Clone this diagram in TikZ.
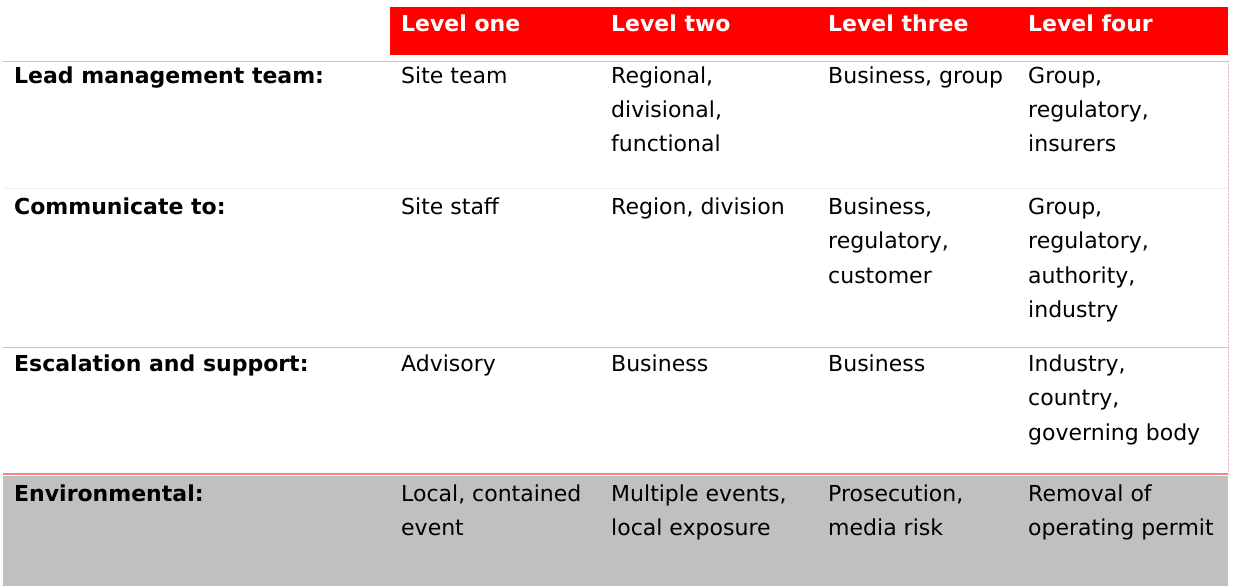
\documentclass[tikz,border=0pt]{standalone}
\usepackage{fontspec}
\setmainfont{DejaVu Sans}
\usetikzlibrary{positioning}
\definecolor{hdrred}{RGB}{255,0,0}
\definecolor{rulepink}{RGB}{242,178,190}
\definecolor{rulered}{RGB}{255,128,128}
\definecolor{rulefaint}{RGB}{240,240,240}
\definecolor{envgray}{RGB}{192,192,192}
\newcommand{\celllines}[1]{\begin{tabular}[t]{@{}l@{}}#1\end{tabular}}
\tikzset{
  cell/.style={anchor=base west, inner sep=0pt,
    font=\fontsize{22}{34.5}\selectfont},
  rowhead/.style={cell, font=\fontsize{22}{34.5}\selectfont\bfseries},
  colhead/.style={rowhead, text=white},
}

\begin{document}
\begin{tikzpicture}[x=1pt,y=-1pt]
            \useasboundingbox (0,0) rectangle (1234,586);
            \fill[envgray] (3,476) rectangle (1228,586);
            \fill[hdrred] (390,7) rectangle (1228,55);
            \draw[rulepink] (3,61) -- (1228,61);
            \draw[rulefaint] (3,188) -- (1228,188);
            \draw[rulepink] (3,347) -- (1228,347);
            \draw[rulered, line width=1.5pt] (3,474) -- (1228,474);
            \draw[rulepink, densely dotted] (1228,61) -- (1228,474);
            \node[colhead] (L1) at (401,32) {Level one};
            \node[colhead] (L2) at (611,32) {Level two};
            \node[colhead] (L3) at (828,32) {Level three};
            \node[colhead] (L4) at (1028,32) {Level four};
            \node[rowhead] (lead) at (14,83) {Lead management team:};
            \node[cell] (lead1) at (401,83) {Site team};
            \node[cell] (lead2) at (611,83) {\celllines{Regional,\\divisional,\\functional}};
            \node[cell] (lead3) at (828,83) {Business, group};
            \node[cell] (lead4) at (1028,83) {\celllines{Group,\\regulatory,\\insurers}};
            \node[rowhead] (comm) at (14,214) {Communicate to:};
            \node[cell] (comm1) at (401,214) {Site staff};
            \node[cell] (comm2) at (611,214) {Region, division};
            \node[cell] (comm3) at (828,214) {\celllines{Business,\\regulatory,\\customer}};
            \node[cell] (comm4) at (1028,214) {\celllines{Group,\\regulatory,\\authority,\\industry}};
            \node[rowhead] (esc) at (14,371) {Escalation and support:};
            \node[cell] (esc1) at (401,371) {Advisory};
            \node[cell] (esc2) at (611,371) {Business};
            \node[cell] (esc3) at (828,371) {Business};
            \node[cell] (esc4) at (1028,371) {\celllines{Industry,\\country,\\governing body}};
            \node[rowhead] (env) at (14,501) {Environmental:};
            \node[cell] (env1) at (401,501) {\celllines{Local, contained\\event}};
            \node[cell] (env2) at (611,501) {\celllines{Multiple events,\\local exposure}};
            \node[cell] (env3) at (828,501) {\celllines{Prosecution,\\media risk}};
            \node[cell] (env4) at (1028,501) {\celllines{Removal of\\operating permit}};
        \end{tikzpicture}
\end{document}
